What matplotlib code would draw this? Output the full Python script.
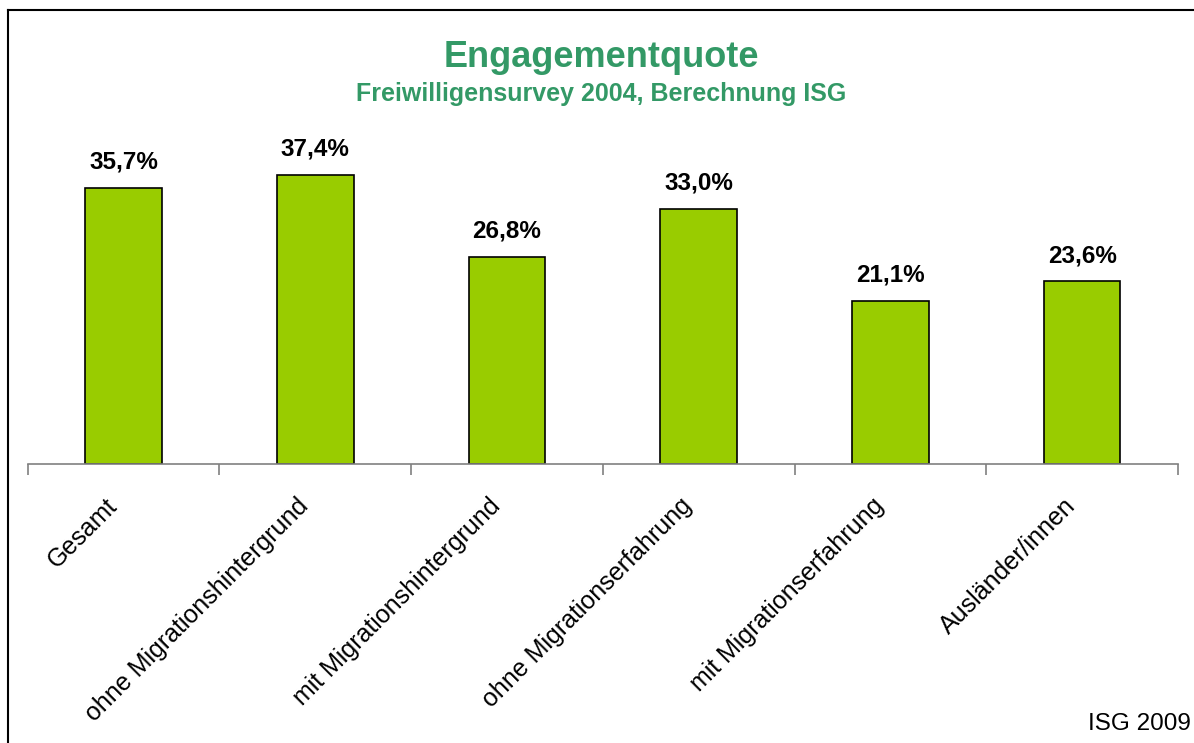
import matplotlib.pyplot as plt
from matplotlib.lines import Line2D
from matplotlib.transforms import ScaledTranslation

plt.rcParams['font.family'] = ['Liberation Sans', 'DejaVu Sans']

kategorien = ['Gesamt', 'ohne Migrationshintergrund', 'mit Migrationshintergrund',
              'ohne Migrationserfahrung', 'mit Migrationserfahrung', 'Ausländer/innen']
quoten = [35.7, 37.4, 26.8, 33.0, 21.1, 23.6]
labels = ['35,7%', '37,4%', '26,8%', '33,0%', '21,1%', '23,6%']

GRUEN_BALKEN = '#99CC00'
GRUEN_TITEL = '#339966'
W, H = 1194, 743

fig = plt.figure(figsize=(W / 100, H / 100), dpi=100)
ax = fig.add_axes([27.7 / W, 279 / H, (1178 - 27.7) / W, (464 - 116) / H])

x = list(range(len(kategorien)))
ax.bar(x, quoten, width=0.4, color=GRUEN_BALKEN, edgecolor='black', linewidth=1.2, zorder=2)

for xi, q, lab in zip(x, quoten, labels):
    ax.annotate(lab, (xi, q), xytext=(0, 14), textcoords='offset points',
                ha='center', va='baseline', fontsize=17.5, fontweight='bold')

ax.set_xlim(-0.5, len(kategorien) - 0.5)
ax.set_ylim(0, 45)
for s in ['top', 'right', 'left']:
    ax.spines[s].set_visible(False)
ax.spines['bottom'].set_color('#808080')
ax.spines['bottom'].set_linewidth(1.2)
ax.set_yticks([])

# Kategorie-Grenzen als Ticks, Labels ohne Tick
ax.set_xticks(x)
ax.set_xticklabels(kategorien, rotation=45, ha='right', va='top', rotation_mode='anchor', fontsize=18)
ax.tick_params(axis='x', which='major', length=0, pad=14)
verschiebung = ScaledTranslation(-0.19, -0.10, fig.dpi_scale_trans)
for lbl in ax.get_xticklabels():
    lbl.set_transform(lbl.get_transform() + verschiebung)
ax.set_xticks([i - 0.5 for i in range(len(kategorien) + 1)], minor=True)
ax.tick_params(axis='x', which='minor', length=8, width=1.2, color='#808080', direction='out')

fig.text(601 / W, 1 - 67 / H, 'Engagementquote', ha='center', va='baseline',
         fontsize=26, fontweight='bold', color=GRUEN_TITEL)
fig.text(601 / W, 1 - 101 / H, 'Freiwilligensurvey 2004, Berechnung ISG', ha='center', va='baseline',
         fontsize=18, fontweight='bold', color=GRUEN_TITEL)
fig.text(1191 / W, 1 - 730 / H, 'ISG 2009', ha='right', va='baseline', fontsize=17.5)

# Rahmen links und oben
fig.add_artist(Line2D([8 / W, 8 / W], [0, 1 - 10 / H], color='black', linewidth=1.5, transform=fig.transFigure))
fig.add_artist(Line2D([8 / W, 1], [1 - 10 / H, 1 - 10 / H], color='black', linewidth=1.5, transform=fig.transFigure))

fig.savefig('out.png', dpi=100)
